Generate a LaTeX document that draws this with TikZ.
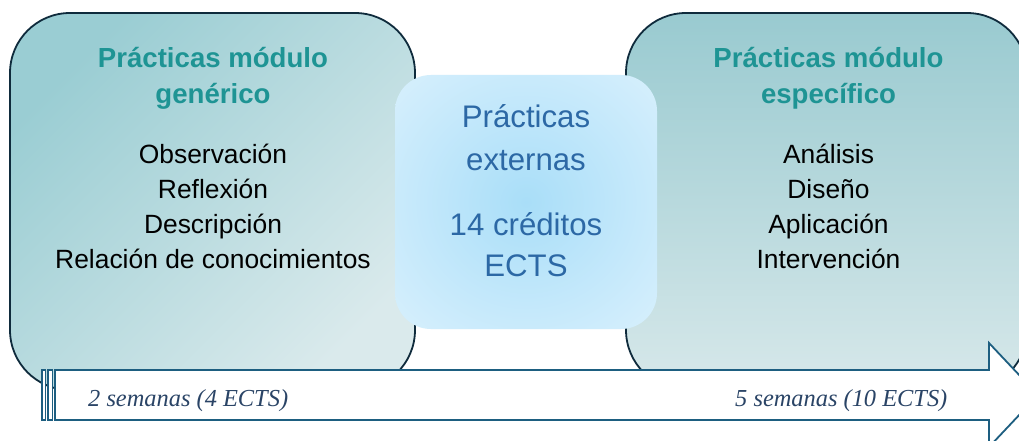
\documentclass[tikz,border=0pt]{standalone}
\usepackage{fontspec}
\setmainfont{Liberation Sans}
\newfontfamily\serifit{Liberation Serif}
\definecolor{boxnavy}{HTML}{0F2B3C}
\definecolor{titleteal}{HTML}{1E9494}
\definecolor{weekblue}{HTML}{2A4466}
\definecolor{arrowblue}{HTML}{1D5E80}
\definecolor{cblue}{HTML}{2C68A5}
\definecolor{ltop}{HTML}{9ACDD3}
\definecolor{lbot}{HTML}{DAEAEC}
\definecolor{rtop}{HTML}{99CAD0}
\definecolor{rbot}{HTML}{D7E8EA}
\definecolor{cinner}{HTML}{A9DEF8}
\definecolor{couter}{HTML}{D8F0FD}
\pgfdeclareradialshading{cglow}{\pgfpoint{0bp}{0bp}}{color(0bp)=(cinner); color(36bp)=(couter); color(50bp)=(couter)}
\begin{document}
\begin{tikzpicture}[x=1pt,y=-1pt,
  boxline/.style={draw=boxnavy, line width=1.8pt, rounded corners=60pt},
  titletext/.style={font=\fontsize{27.6}{33}\selectfont\bfseries, text=titleteal, anchor=base, inner sep=0pt},
  itemtext/.style={font=\fontsize{26.4}{32}\selectfont, text=black, anchor=base, inner sep=0pt},
  midtext/.style={font=\fontsize{31.2}{37}\selectfont, text=cblue, anchor=base, inner sep=0pt},
  weektext/.style={font=\serifit\itshape\fontsize{24.4}{29}\selectfont, text=weekblue, anchor=base west, inner sep=0pt},
  arrowline/.style={draw=arrowblue, line width=1.8pt, fill=white}]
\useasboundingbox (0,0) rectangle (1019,441);
\fill[white] (0,0) rectangle (1019,441);
% left box
\path[boxline, top color=ltop, bottom color=lbot, shading angle=45] (10,13) rectangle (415,390);
% right box
\path[boxline, top color=rtop, bottom color=rbot] (626,13) rectangle (1027,390);
% center box
\path[shading=cglow, rounded corners=36pt] (395,75) rectangle (657,329);
% striped arrow
\path[arrowline] (42,370) rectangle (45.5,420);
\path[arrowline] (48,370) rectangle (52.5,420);
\path[arrowline] (55,370) -- (989,370) -- (989,343) -- (1038,395) -- (989,447) -- (989,420) -- (55,420) -- cycle;
% left texts
\node[titletext] (lt1) at (213,68) {Prácticas módulo};
\node[titletext] (lt2) at (213,104) {genérico};
\node[itemtext] (l1) at (213,163) {Observación};
\node[itemtext] (l2) at (213,198) {Reflexión};
\node[itemtext] (l3) at (213,233) {Descripción};
\node[itemtext] (l4) at (213,268) {Relación de conocimientos};
% right texts
\node[titletext] (rt1) at (828.5,68) {Prácticas módulo};
\node[titletext] (rt2) at (828.5,104) {específico};
\node[itemtext] (r1) at (828.5,163) {Análisis};
\node[itemtext] (r2) at (828.5,198) {Diseño};
\node[itemtext] (r3) at (828.5,233) {Aplicación};
\node[itemtext] (r4) at (828.5,268) {Intervención};
% center texts
\node[midtext] (c1) at (526,128) {Prácticas};
\node[midtext] (c2) at (526,170) {externas};
\node[midtext] (c3) at (526,235) {14 créditos};
\node[midtext] (c4) at (526,276) {ECTS};
% arrow labels
\node[weektext] (w1) at (88,406) {2 semanas (4 ECTS)};
\node[weektext] (w2) at (735,406) {5 semanas (10 ECTS)};
\end{tikzpicture}
\end{document}
